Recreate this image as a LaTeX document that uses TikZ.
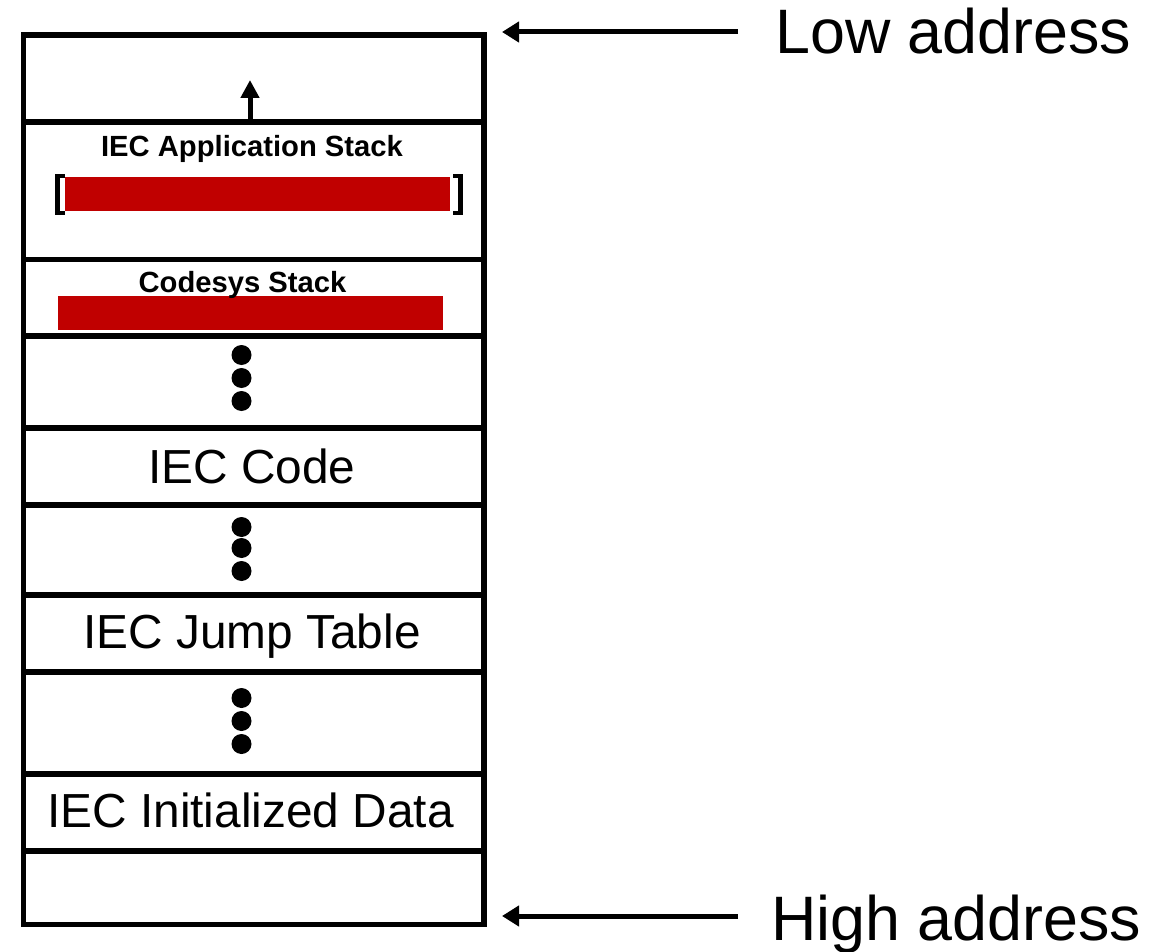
\documentclass[tikz,border=0pt]{standalone}
\usepackage{fontspec}
\setmainfont{Liberation Sans}
\usetikzlibrary{arrows.meta}
\definecolor{stackred}{HTML}{C00000}
\tikzset{
  seg/.style={draw, line width=5.5pt, rectangle, inner sep=0pt, minimum width=460.5pt, anchor=north west},
  bigtxt/.style={inner sep=0pt, anchor=base, font=\fontsize{47.8}{50}\selectfont},
  smalltxt/.style={inner sep=0pt, anchor=base, font=\bfseries\fontsize{29.2}{32}\selectfont},
  addrtxt/.style={inner sep=0pt, anchor=base west, font=\fontsize{62.8}{66}\selectfont},
  bar/.style={fill=stackred, inner sep=0pt, minimum width=385pt, minimum height=34pt},
  dot/.style={fill=black, circle, inner sep=0pt, minimum size=20pt},
  arr/.style={line width=5pt, -{Triangle[length=17pt,width=20pt]}},
  brk/.style={line width=4.5pt, miter limit=10}
}
\begin{document}
\begin{tikzpicture}[x=1pt,y=-1pt]
\useasboundingbox (0,0) rectangle (1168,952);
% red bars
\node[bar] (bar1) at (257.5,194) {};
\node[bar] (bar2) at (250.5,313) {};
% segments
\node[seg, minimum height=87pt] (s0) at (20.5,32.5) {};
\node[seg, minimum height=137.5pt] (s1) at (20.5,119.5) {};
\node[seg, minimum height=76pt] (s2) at (20.5,257) {};
\node[seg, minimum height=92pt] (s3) at (20.5,333) {};
\node[seg, minimum height=77pt] (s4) at (20.5,425) {};
\node[seg, minimum height=90pt] (s5) at (20.5,502) {};
\node[seg, minimum height=77pt] (s6) at (20.5,592) {};
\node[seg, minimum height=102pt] (s7) at (20.5,669) {};
\node[seg, minimum height=77pt] (s8) at (20.5,771) {};
\node[seg, minimum height=73.5pt] (s9) at (20.5,848) {};
% brackets
\draw[brk] (65,176) -- (57.5,176) -- (57.5,213) -- (65,213);
\draw[brk] (453,176) -- (460.5,176) -- (460.5,213) -- (453,213);
% texts
\node[smalltxt] (tapp) at (252,157) {IEC Application Stack};
\node[smalltxt] (tcode) at (242.5,293) {Codesys Stack};
\node[bigtxt] (tiec) at (252,483) {IEC Code};
\node[bigtxt] (tjump) at (252,648) {IEC Jump Table};
\node[bigtxt] (tinit) at (250.5,827) {IEC Initialized Data};
% dots
\foreach \i/\y in {a1/355,a2/378,a3/401,b1/527,b2/548,b3/571,c1/698,c2/721,c3/744}
  \node[dot] (d\i) at (241.5,\y) {};
% up arrow
\coordinate (uptip) at (250,80);
\draw[line width=5pt, -{Triangle[length=18pt,width=18pt]}] (s1.north -| uptip) -- (uptip);
% address labels
\node[addrtxt] (low) at (775,54) {Low address};
\node[addrtxt] (high) at (771,940) {High address};
\coordinate (lowtail) at (738,32);
\coordinate (lowtip) at (502,32);
\coordinate (hightail) at (738,916);
\coordinate (hightip) at (502,916);
\draw[arr] (lowtail) -- (lowtip);
\draw[arr] (hightail) -- (hightip);
\end{tikzpicture}
\end{document}
